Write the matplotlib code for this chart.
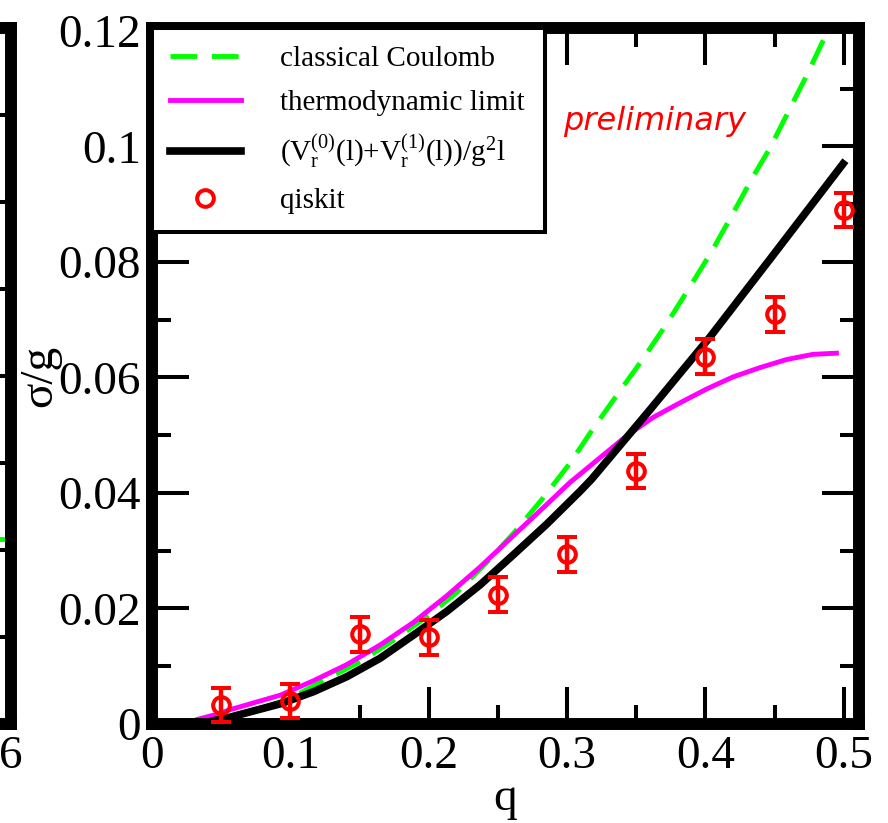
import matplotlib
matplotlib.use("Agg")
import matplotlib.pyplot as plt
from matplotlib.lines import Line2D
from matplotlib.ticker import MultipleLocator

plt.rcParams['font.family'] = ['Liberation Serif', 'DejaVu Serif']
plt.rcParams['mathtext.fontset'] = 'custom'
plt.rcParams['mathtext.rm'] = 'Liberation Serif'
plt.rcParams['mathtext.it'] = 'Liberation Serif:italic'

# classical Coulomb (green dashed)
q_coul = [0.05, 0.08, 0.10, 0.124, 0.1505, 0.1746, 0.1987, 0.2204, 0.242, 0.2612,
          0.2829, 0.3022, 0.319, 0.3383, 0.3551, 0.372, 0.3888, 0.4045, 0.4201, 0.4345,
          0.4466, 0.473, 0.488, 0.50]
s_coul = [0.0009, 0.0028, 0.0045, 0.0075, 0.0108, 0.0145, 0.0186, 0.0228, 0.0280, 0.0330,
          0.0392, 0.0452, 0.0512, 0.0577, 0.0633, 0.0693, 0.0757, 0.0818, 0.0885, 0.0948,
          0.0997, 0.1122, 0.1198, 0.126]

# thermodynamic limit (magenta)
q_thermo = [0.033, 0.047, 0.0567, 0.0928, 0.1168, 0.1409, 0.165, 0.189, 0.2131, 0.2372,
            0.2612, 0.2853, 0.302, 0.3238, 0.3431, 0.3623, 0.3816, 0.4009, 0.4201, 0.4394,
            0.4586, 0.4778, 0.4947]
s_thermo = [0.0008, 0.0017, 0.0025, 0.0050, 0.0075, 0.0103, 0.0137, 0.0176, 0.0222, 0.0272,
            0.0326, 0.0380, 0.0418, 0.0461, 0.0499, 0.0531, 0.0556, 0.0580, 0.0601, 0.0617,
            0.0631, 0.0640, 0.0642]

# (Vr0 + Vr1)/g^2 l (black)
q_pot = [0.045, 0.0567, 0.0928, 0.1168, 0.1409, 0.165, 0.189, 0.2131, 0.2372, 0.2612,
         0.2853, 0.3094, 0.3178, 0.3599, 0.4033, 0.449, 0.4995]
s_pot = [0.0006, 0.0012, 0.0035, 0.0056, 0.0082, 0.0114, 0.0154, 0.0195, 0.0241, 0.0293,
         0.0346, 0.0403, 0.0424, 0.0544, 0.0670, 0.0812, 0.0970]

# qiskit results
q_qiskit = [0.05, 0.10, 0.15, 0.20, 0.25, 0.30, 0.35, 0.40, 0.45, 0.50]
s_qiskit = [0.0033, 0.0040, 0.0155, 0.0150, 0.0224, 0.0294, 0.0438, 0.0636, 0.0709, 0.0890]
e_qiskit = [0.003] * 10

# piece of the neighbouring panel
x_left = [5.0, 6.0]
y_left = [2.13, 2.13]

fig = plt.figure(figsize=(8.88, 8.23), dpi=100)
W, H = 888, 823
ax = fig.add_axes([152 / W, 1 - 724 / H, (859 - 152) / W, (724 - 28) / H])
ax0 = fig.add_axes([-0.7, 1 - 724 / H, 0.7 + 11 / W, (724 - 28) / H])

spine_lw = 8.6
for a in (ax, ax0):
    for sp in a.spines.values():
        sp.set_linewidth(spine_lw)

# neighbour panel (only its right edge is in view)
ax0.plot(x_left, y_left, color='#00ff00', lw=3.5, dashes=(5.5, 3))
ax0.set_xlim(0, 6)
ax0.set_ylim(0, 8)
ax0.yaxis.set_major_locator(MultipleLocator(1))
ax0.set_xticks([6])
ax0.set_xticklabels(['6'])
ax0.tick_params(which='major', direction='in', right=True, top=True, length=26, width=2.9,
                labelsize=34, pad=8, labelleft=False)

# main panel
ax.plot(q_coul, s_coul, color='#00ff00', lw=3.5, dashes=(5.5, 3))
ax.plot(q_thermo, s_thermo, color='#ff00ff', lw=3.5)
ax.plot(q_pot, s_pot, color='black', lw=5.5)
ax.errorbar(q_qiskit, s_qiskit, yerr=e_qiskit, fmt='o', mfc='none', mec='#ff0000',
            ms=12, mew=2.9, ecolor='#ff0000', elinewidth=3.2, capsize=7, capthick=3.6,
            zorder=3)

ax.set_xlim(0, 0.511)
ax.set_ylim(0, 0.1205)
ax.xaxis.set_minor_locator(MultipleLocator(0.05))
ax.yaxis.set_minor_locator(MultipleLocator(0.01))
ax.set_xticks([0, 0.1, 0.2, 0.3, 0.4, 0.5])
ax.set_xticklabels(['0', '0.1', '0.2', '0.3', '0.4', '0.5'])
ax.set_yticks([0, 0.02, 0.04, 0.06, 0.08, 0.1, 0.12])
ax.set_yticklabels(['0', '0.02', '0.04', '0.06', '0.08', '0.1', '0.12'])
ax.tick_params(which='both', direction='in', top=True, right=True, width=2.9, labelsize=34)
ax.tick_params(which='major', length=26.6, pad=8)
ax.tick_params(which='minor', length=13.7)

ax.set_xlabel('q', fontsize=34, labelpad=0)
ax.set_ylabel('σ/g', fontsize=34)
ax.yaxis.set_label_coords(-0.128, 0.5)

handles = [
    Line2D([], [], color='#00ff00', lw=3.5, dashes=(5.5, 3)),
    Line2D([], [], color='#ff00ff', lw=3.5),
    Line2D([], [], color='black', lw=5.5),
    Line2D([], [], ls='none', marker='o', mfc='none', mec='#ff0000', ms=12, mew=2.9),
]
labels = ['classical Coulomb', 'thermodynamic limit',
          r'(V$_\mathrm{r}^{\mathrm{(0)}}$(l)+V$_\mathrm{r}^{\mathrm{(1)}}$(l))/g$^\mathrm{2}$l',
          'qiskit']
leg = ax.legend(handles, labels, loc='upper left', bbox_to_anchor=(0, 0, 0.556, 1),
                mode='expand', borderaxespad=0, fontsize=21, handlelength=2.45,
                handletextpad=1.35, borderpad=0.6, labelspacing=0.6, numpoints=1,
                fancybox=False, framealpha=1)
leg.get_frame().set_edgecolor('black')
leg.get_frame().set_linewidth(2.9)

fig.text(655 / W, 1 - 130 / H, 'preliminary', color='#ff0000', fontsize=23,
         style='italic', family='DejaVu Sans', ha='center', va='baseline')

fig.savefig('out.png', dpi=100)
